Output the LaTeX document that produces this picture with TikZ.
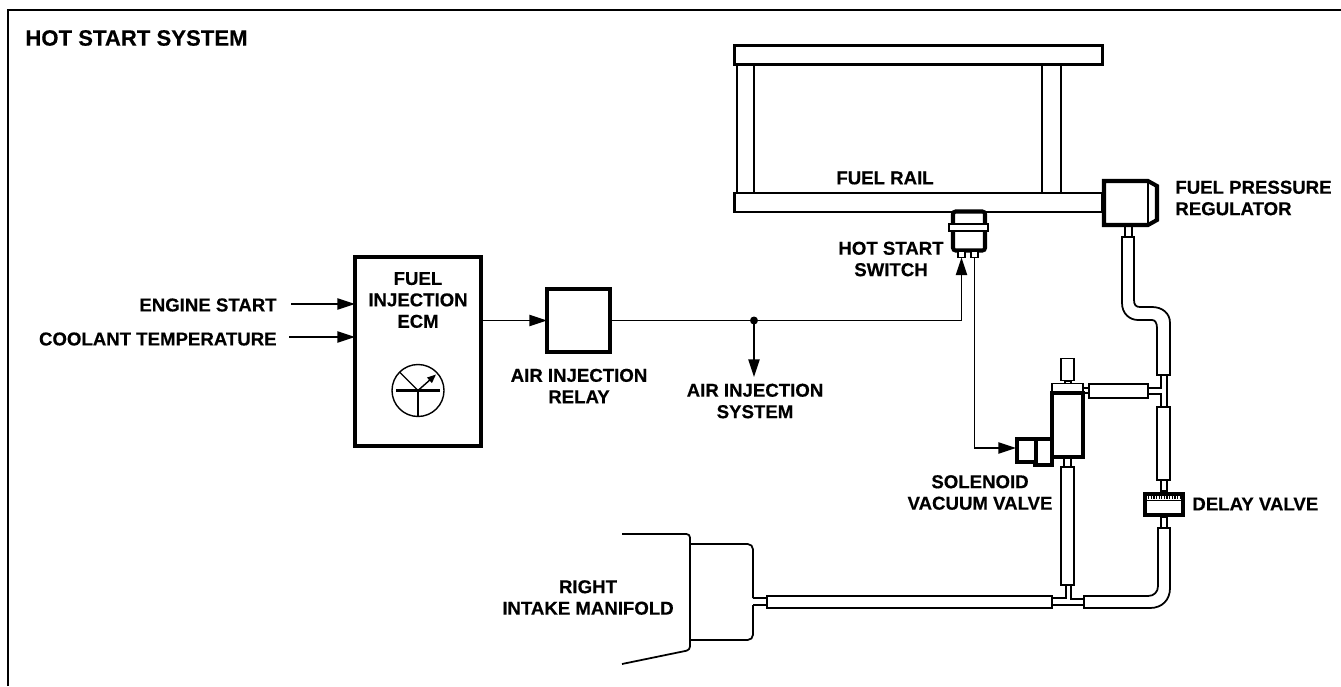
\documentclass[tikz,border=0pt]{standalone}
\usepackage{fontspec}
\setmainfont{Liberation Sans}[BoldFeatures={FakeBold=0.4}]
\usepackage{tikz}
\usetikzlibrary{arrows.meta, positioning, calc}
\tikzset{
	boxsize/.style 2 args={minimum width=#1*0.02cm, minimum height=#2*0.02cm},
	thickbox/.style={rectangle, draw=black, line width=2.3pt, fill=white, inner sep=0pt, outer sep=0pt},
	midbox/.style  ={rectangle, draw=black, line width=1.5pt, fill=white, inner sep=0pt, outer sep=0pt},
	tube/.style    ={rectangle, draw=black, line width=1pt, fill=white, inner sep=0pt, outer sep=0pt},
	pipe/.style    ={draw=black, line width=1pt},
	wire/.style    ={draw=black, line width=0.8pt},
	sig/.style     ={wire, -{Stealth[length=10pt, width=6.4pt, inset=0pt]}},
	lbl/.style     ={font=\fontsize{10.6}{12.2}\selectfont\bfseries, align=center, inner sep=0pt},
}
\begin{document}
\begin{tikzpicture}[x=0.02cm, y=-0.02cm]
	\useasboundingbox (0,0) rectangle (1341,686);
	% frame and title
	\draw[wire, line width=1pt] (8,686) -- (8,10) -- (1341,10);
	\node[lbl, anchor=west, font=\fontsize{12.6}{14}\selectfont\bfseries] (title) at (25,38) {HOT START SYSTEM};

	% ecm and relay
	\node[thickbox, boxsize={126}{189}] (ecm) at (418,351.5) {};
	\node[thickbox, boxsize={63}{63}] (relay) at (578.5,320.5) {};
	\node[lbl] (ecmlbl) at (418,300) {FUEL\\INJECTION\\ECM};
	\node[lbl] (relaylbl) at (579,386) {AIR INJECTION\\RELAY};
	\node[circle, draw=black, line width=0.8pt, boxsize={52}{52}, inner sep=0pt, outer sep=0pt] (dial) at (418,390.5) {};
	\draw[wire, line width=1.4pt] (dial.center) ++(-22,0) -- ++(44,0);
	\draw[wire] (dial.center) -- (dial.south);
	\draw[wire] (dial.center) -- (dial.135);
	\draw[wire, -{Stealth[length=5pt, width=4pt, inset=0pt]}] (dial.center) -- ++(18,-16);

	% inputs
	\node[lbl, anchor=east] (startlbl) at (277,305) {ENGINE START};
	\node[lbl, anchor=east] (templbl) at (277,339) {COOLANT TEMPERATURE};
	\coordinate (startin) at (291,304);
	\coordinate (tempin) at (289,337);
	\draw[sig] (startin) -- (startin -| ecm.west);
	\draw[sig] (tempin) -- (tempin -| ecm.west);
	\draw[sig] (ecm.east |- relay.west) -- (relay.west);

	% fuel rail
	\node[tube, boxsize={17}{130}] (railleft) at (745.5,128) {};
	\node[tube, boxsize={19}{130}] (railright) at (1051.5,128) {};
	\node[midbox, line width=1.3pt, boxsize={368}{19}] (railtop) at (918.5,55) {};
	\node[midbox, line width=1.3pt, boxsize={368}{19}] (railbot) at (918.5,202.5) {};
	\node[lbl] (raillbl) at (885,178) {FUEL RAIL};

	% regulator
	\node[tube, boxsize={7}{12}] (regstem) at (1128.5,231.5) {};
	\draw[thickbox] (1104,181) -- (1148,181) -- (1157,186) -- (1157,220) -- (1148,225) -- (1104,225) -- cycle;
	\draw[wire] (1148,181) -- (1148,225);
	\node[lbl, anchor=west, align=left] (reglbl) at (1175,198) {FUEL PRESSURE\\REGULATOR};

	% switch
	\node[thickbox, rounded corners=1.5pt, boxsize={32}{39}] (swbody) at (969,231) {};
	\node[midbox, boxsize={39}{7}] (swflange) at (968.5,227.5) {};
	\node[tube, boxsize={7}{6}] (termA) at (961.5,254.5) {};
	\node[tube, boxsize={7}{6}] (termB) at (974.5,254.5) {};
	\node[lbl] (swlbl) at (891,259) {HOT START\\SWITCH};

	% wires from relay
	\coordinate (junc) at (754,320.5);
	\coordinate (airout) at (754,377);
	\coordinate (solin) at (1016,448);
	\draw[sig] (relay.east) -- (junc) -| (termA.south);
	\fill (junc) circle (4);
	\draw[sig] (junc) -- (airout);
	\draw[sig] (termB.south) |- (solin);
	\node[lbl] (airlbl) at (755,401) {AIR INJECTION\\SYSTEM};

	% hose from regulator, tee and delay valve
	\draw[pipe] (1122,237) -- (1122,303) .. controls (1122,314) and (1130,320) .. (1138,320) -- (1152,320)
		.. controls (1155,320) and (1157,323) .. (1157,328) -- (1157,375) -- (1170,375) -- (1170,323)
		.. controls (1170,313) and (1162,307) .. (1152,307) -- (1140,307)
		.. controls (1136,307) and (1134,305) .. (1134,300) -- (1134,237) -- cycle;
	\draw[pipe] (1161,375) -- (1161,388) -- (1148,388);
	\draw[pipe] (1148,394) -- (1161,394) -- (1161,407);
	\draw[pipe] (1167,375) -- (1167,407);
	\foreach \nm/\cx/\cy/\w/\h in {
		tubelow/1163.5/443.5/13/73,
		delaytop/1164/485.5/6/11,
		delaybot/1164/522.5/6/11,
		sideconn/1086/390.5/6/5,
		sidetube/1118.5/391/59/14,
		solcap/1067.5/369.5/13/22,
		solcapstem/1068/382.5/6/3,
		solstem/1067.5/462/7/9,
		soltube/1067.5/526/13/118,
		intaketube/909.5/602/285/12} {
		\node[tube, boxsize={\w}{\h}] (\nm) at (\cx,\cy) {};
	}
	\node[thickbox, boxsize={38}{21}] (delay) at (1164,504.5) {};
	\draw[wire, line width=1.2pt, dash pattern=on 0.7pt off 0.8pt] (1148,497.5) -- (1180,497.5);
	\draw[wire] (1147,500.5) -- (1181,500.5);
	\node[lbl, anchor=west] (delaylbl) at (1192,504) {DELAY VALVE};

	% solenoid valve
	\node[tube, boxsize={31}{9}] (soltop) at (1067.5,388) {};
	\node[thickbox, line width=1.9pt, boxsize={31}{64}] (solbody) at (1067.5,425) {};
	\node[thickbox, line width=1.9pt, boxsize={17}{26}] (solB) at (1043.5,452) {};
	\node[thickbox, line width=1.9pt, boxsize={19}{23}] (solA) at (1026.5,450.5) {};
	\node[lbl] (sollbl) at (980,492.5) {SOLENOID\\VACUUM VALVE};

	% lower hose and tee
	\draw[pipe] (1158,528) -- (1158,586) .. controls (1158,592) and (1154,596) .. (1148,596) -- (1084,596)
		-- (1084,608) -- (1150,608) .. controls (1162,608) and (1170,600) .. (1170,588) -- (1170,528) -- cycle;
	\draw[pipe] (1052,598) -- (1066,598) -- (1066,585);
	\draw[pipe] (1071,585) -- (1071,599) -- (1084,599);
	\draw[pipe] (1052,605) -- (1084,605);

	% manifold
	\draw[pipe, rounded corners=2pt] (622,534) -- (690,534) -- (690,650) -- (622,664);
	\draw[pipe, rounded corners=3pt] (690,544) -- (753,544) -- (753,598);
	\draw[pipe] (753,598) -- (767,598);
	\draw[pipe] (767,605) -- (753,605);
	\draw[pipe, rounded corners=3pt] (753,605) -- (753,640) -- (690,640);
	\node[lbl] (manilbl) at (588,597.5) {RIGHT\\INTAKE MANIFOLD};
\end{tikzpicture}
\end{document}
